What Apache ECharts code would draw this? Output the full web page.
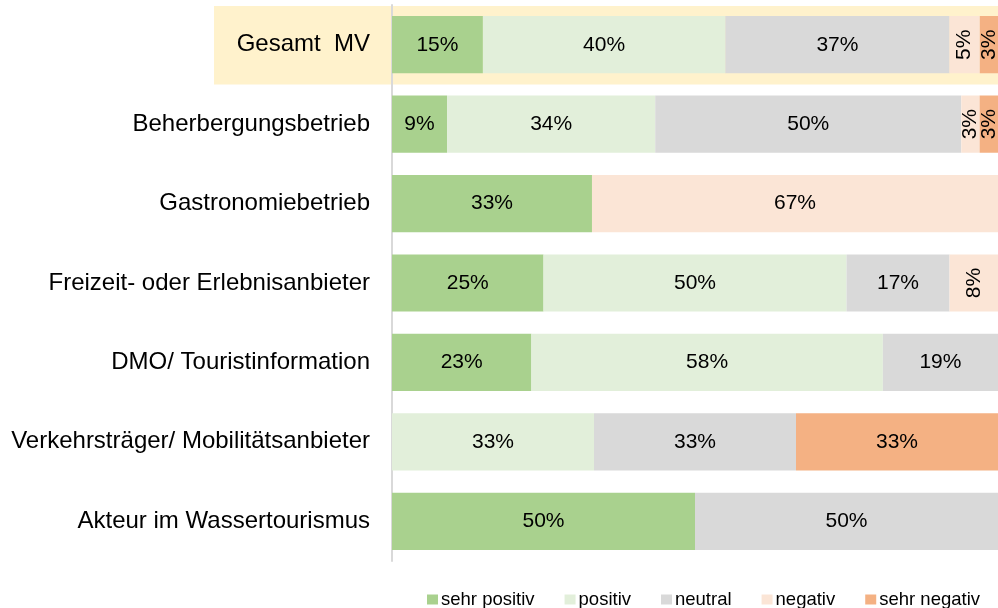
<!DOCTYPE html>
<html>
<head>
<meta charset="utf-8">
<script src="https://cdn.jsdelivr.net/npm/echarts@6/dist/echarts.min.js"></script>
<style>
  html, body { margin: 0; padding: 0; background: #fff; }
  #chart { width: 998px; height: 608px; }
</style>
</head>
<body>
<div id="chart"></div>
<script>
var categories = ['Gesamt  MV', 'Beherbergungsbetrieb', 'Gastronomiebetrieb',
  'Freizeit- oder Erlebnisanbieter', 'DMO/ Touristinformation',
  'Verkehrsträger/ Mobilitätsanbieter', 'Akteur im Wassertourismus'];
var seriesNames = ['sehr positiv', 'positiv', 'neutral', 'negativ', 'sehr negativ'];
var colors = ['#a9d18e', '#e2efda', '#d9d9d9', '#fbe5d6', '#f4b183'];

// Prozentwerte je Kategorie (wie beschriftet)
var sehrPositiv = [15, 9, 33, 25, 23, 0, 50];
var positiv     = [40, 34, 0, 50, 58, 33, 0];
var neutral     = [37, 50, 0, 17, 19, 33, 50];
var negativ     = [5, 3, 67, 8, 0, 0, 0];
var sehrNegativ = [3, 3, 0, 0, 0, 33, 0];

var values = [sehrPositiv, positiv, neutral, negativ, sehrNegativ];

// jede Zeile auf 100 % strecken
var rowSums = categories.map(function (c, i) {
  return values.reduce(function (s, arr) { return s + arr[i]; }, 0);
});

var myChart = echarts.init(document.getElementById('chart'));

var series = values.map(function (arr, k) {
  return {
    name: seriesNames[k],
    type: 'bar',
    stack: 'total',
    barCategoryGap: '28%',
    itemStyle: { color: colors[k] },
    label: {
      show: true,
      position: 'inside',
      color: '#000',
      fontFamily: 'Liberation Sans, Arial, sans-serif',
      fontSize: 21
    },
    data: arr.map(function (v, i) {
      var item = { value: v / rowSums[i] * 100 };
      item.label = {
        show: v > 0,
        formatter: v + '%',
        rotate: v <= 8 ? 90 : 0
      };
      return item;
    })
  };
});

var option = {
  animation: false,
  textStyle: { fontFamily: 'Liberation Sans, Arial, sans-serif' },
  grid: { left: 392, right: 0, top: 5, bottom: 47 },
  legend: {
    data: seriesNames,
    left: 422,
    top: 585,
    icon: 'rect',
    itemWidth: 11,
    itemHeight: 10,
    itemGap: 30,
    textStyle: { fontSize: 18.5, color: '#000', padding: [0, 0, 0, -2] }
  },
  xAxis: {
    type: 'value',
    min: 0,
    max: 100,
    show: false
  },
  yAxis: {
    type: 'category',
    data: categories,
    inverse: true,
    axisTick: { show: false },
    axisLine: { show: true, lineStyle: { color: '#d9d9d9', width: 2 } },
    axisLabel: { color: '#000', fontSize: 24, margin: 22 }
  },
  series: series
};
myChart.setOption(option);

// Hervorhebung der Zeile "Gesamt MV"
var yc = myChart.convertToPixel({ yAxisIndex: 0 }, categories[0]);
var band = (608 - 5 - 47) / categories.length;
myChart.setOption({
  graphic: [{
    type: 'rect',
    z: -10,
    silent: true,
    shape: { x: 214, y: yc - band / 2 + 1, width: 998 - 214, height: band - 1 },
    style: { fill: '#fff2cc' }
  }]
});
</script>
</body>
</html>
